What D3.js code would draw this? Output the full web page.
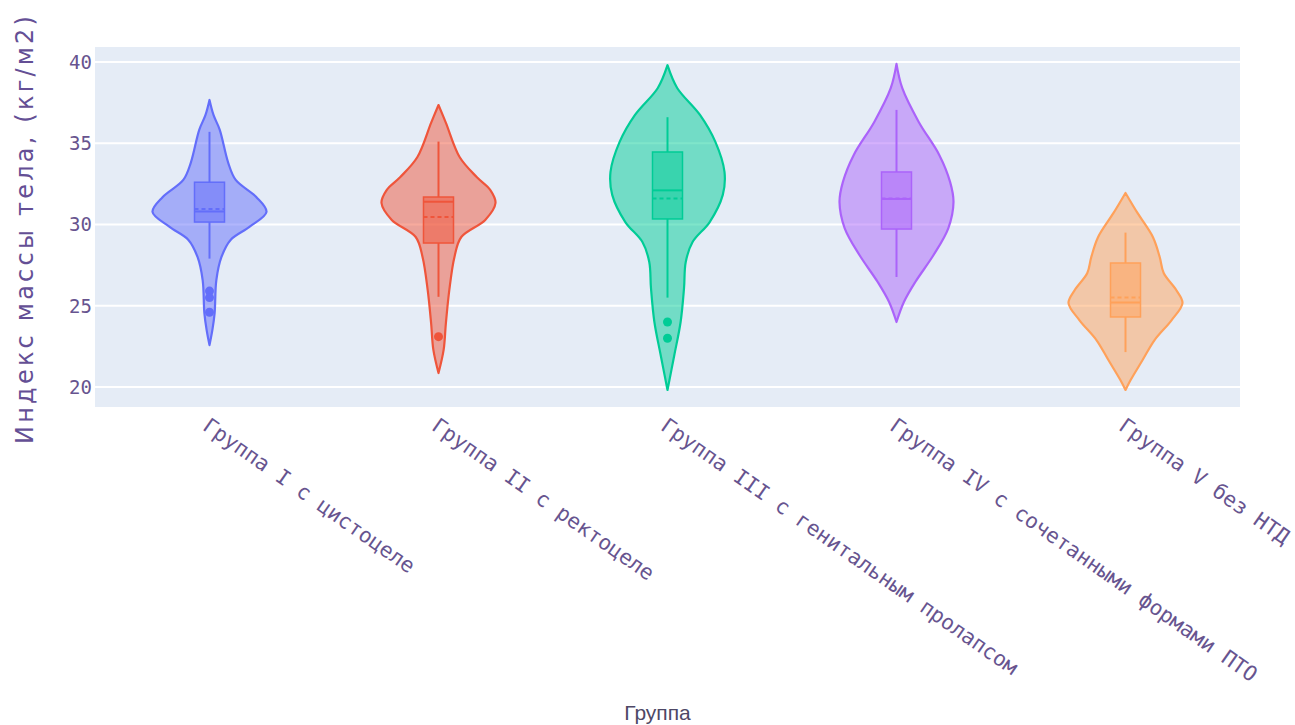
<!DOCTYPE html>
<html>
<head>
<meta charset="utf-8">
<script src="https://cdn.jsdelivr.net/npm/d3@7"></script>
<style>
  html, body { margin: 0; padding: 0; background: #fff; }
  svg { display: block; }
</style>
</head>
<body>
<svg id="chart" width="1295" height="725"></svg>
<script>
// Group labels (x axis categories)
const categories = [
  "Группа I с цистоцеле",
  "Группа II с ректоцеле",
  "Группа III с генитальным пролапсом",
  "Группа IV с сочетанными формами ПТО",
  "Группа V без НТД"
];

// Y axis ticks
const yTicks = [20, 25, 30, 35, 40];

// Density profiles: [BMI value, relative density 0..1]
const densityI = [[37.66,0],[36.74,0.07],[35.82,0.18],[33.78,0.33],[32.74,0.46],[31.69,0.82],[30.77,1.0],[29.85,0.70],[29.05,0.37],[28.0,0.21],[26.58,0.12],[24.55,0.09],[23.5,0.05],[22.58,0]];
const densityII = [[37.35,0],[36.25,0.13],[34.15,0.37],[32.92,0.67],[32.12,0.91],[31.32,1.0],[30.28,0.82],[29.23,0.40],[28.0,0.28],[25.97,0.19],[23.94,0.13],[22.28,0.09],[20.86,0]];
const densityIII = [[39.8,0],[38.4,0.17],[36.74,0.57],[35.08,0.84],[33.23,1.0],[31.82,0.97],[30.15,0.74],[28.92,0.44],[27.69,0.32],[26.09,0.29],[24.0,0.23],[21.97,0.12],[19.82,0]];
const densityIV = [[39.88,0],[38.4,0.10],[36.31,0.39],[34.28,0.75],[32.62,0.94],[31.38,1.0],[29.78,0.91],[28.12,0.65],[26.46,0.33],[25.23,0.13],[24.0,0]];
const densityV = [[31.94,0],[30.71,0.21],[29.23,0.48],[28.0,0.60],[27.02,0.67],[25.97,0.89],[25.17,1.0],[24.12,0.81],[22.89,0.51],[21.66,0.30],[20.43,0.09],[19.82,0]];
const densities = [densityI, densityII, densityIII, densityIV, densityV];

// Box statistics per group
const q1Values      = [30.15, 28.86, 30.34, 29.72, 24.31];
const medianValues  = [30.80, 31.40, 32.10, 31.57, 25.20];
const meanValues    = [30.95, 30.46, 31.60, 31.60, 25.50];
const q3Values      = [32.60, 31.69, 34.46, 33.23, 27.63];
const lowerWhiskers = [27.90, 25.55, 25.50, 26.77, 22.15];
const upperWhiskers = [35.70, 35.10, 36.60, 37.05, 29.50];
const outliers = [[25.9, 25.5, 24.6], [23.1], [24.0, 23.0], [], []];

const colors = ["#636efa", "#EF553B", "#00cc96", "#ab63fa", "#FFA15A"];

const svg = d3.select("#chart");
const plot = { left: 95, right: 1240, top: 47, bottom: 407 };

const x = d3.scaleBand().domain(categories).range([plot.left, plot.right]).padding(0);
const y = d3.scaleLinear().domain([18.77, 40.92]).range([plot.bottom, plot.top]);
const halfWidth = d3.scaleLinear().domain([0, 1]).range([0, 57]);
const boxHalf = 15;

// plot background
svg.append("rect")
  .attr("x", plot.left).attr("y", plot.top)
  .attr("width", plot.right - plot.left).attr("height", plot.bottom - plot.top)
  .attr("fill", "#E5ECF6");

// horizontal grid
svg.append("g").selectAll("line").data(yTicks).join("line")
  .attr("x1", plot.left).attr("x2", plot.right)
  .attr("y1", d => y(d)).attr("y2", d => y(d))
  .attr("stroke", "#ffffff").attr("stroke-width", 2);

// y tick labels
svg.append("g").selectAll("text").data(yTicks).join("text")
  .attr("x", plot.left - 3).attr("y", d => y(d))
  .attr("text-anchor", "end").attr("dominant-baseline", "central")
  .attr("font-family", "DejaVu Sans Mono, monospace").attr("font-size", 19)
  .attr("fill", "#67548f")
  .text(d => d);

// x tick labels, rotated
svg.append("g").selectAll("text").data(categories).join("text")
  .attr("transform", d => `translate(${x(d) + x.bandwidth() / 2 + 1},${plot.bottom + 9}) rotate(35)`)
  .attr("dy", "0.75em")
  .attr("text-anchor", "start")
  .attr("font-family", "DejaVu Sans Mono, monospace").attr("font-size", 21)
  .attr("fill", "#67548f")
  .text(d => d);

// axis titles
svg.append("text")
  .attr("transform", `translate(33,230) rotate(-90)`)
  .attr("text-anchor", "middle")
  .attr("textLength", 428).attr("lengthAdjust", "spacing")
  .attr("font-family", "DejaVu Sans, sans-serif").attr("font-size", 24)
  .attr("fill", "#644f95")
  .text("Индекс массы тела, (кг/м2)");

svg.append("text")
  .attr("x", (plot.left + plot.right) / 2 - 10).attr("y", 720)
  .attr("text-anchor", "middle")
  .attr("font-family", "Liberation Sans, Arial, sans-serif").attr("font-size", 21)
  .attr("fill", "#4e4866")
  .text("Группа");

// violins
categories.forEach((cat, i) => {
  const cx = x(cat) + x.bandwidth() / 2;
  const col = colors[i];
  const g = svg.append("g");

  const area = d3.area()
    .y(d => y(d[0]))
    .x0(d => cx - halfWidth(d[1]))
    .x1(d => cx + halfWidth(d[1]))
    .curve(d3.curveCatmullRom.alpha(0.5));

  g.append("path").datum(densities[i])
    .attr("d", area)
    .attr("fill", col).attr("fill-opacity", 0.5)
    .attr("stroke", col).attr("stroke-width", 2.2)
    .attr("stroke-linejoin", "round");

  // whiskers
  g.append("line")
    .attr("x1", cx).attr("x2", cx)
    .attr("y1", y(upperWhiskers[i])).attr("y2", y(q3Values[i]))
    .attr("stroke", col).attr("stroke-width", 2);
  g.append("line")
    .attr("x1", cx).attr("x2", cx)
    .attr("y1", y(q1Values[i])).attr("y2", y(lowerWhiskers[i]))
    .attr("stroke", col).attr("stroke-width", 2);

  // box
  g.append("rect")
    .attr("x", cx - boxHalf).attr("width", boxHalf * 2)
    .attr("y", y(q3Values[i])).attr("height", y(q1Values[i]) - y(q3Values[i]))
    .attr("fill", col).attr("fill-opacity", 0.5)
    .attr("stroke", col).attr("stroke-width", 1.5);

  // median
  g.append("line")
    .attr("x1", cx - boxHalf).attr("x2", cx + boxHalf)
    .attr("y1", y(medianValues[i])).attr("y2", y(medianValues[i]))
    .attr("stroke", col).attr("stroke-width", 2);

  // mean (dashed)
  g.append("line")
    .attr("x1", cx - boxHalf).attr("x2", cx + boxHalf)
    .attr("y1", y(meanValues[i])).attr("y2", y(meanValues[i]))
    .attr("stroke", col).attr("stroke-width", 2)
    .attr("stroke-dasharray", "4,3");

  // outliers
  g.selectAll("circle").data(outliers[i]).join("circle")
    .attr("cx", cx).attr("cy", d => y(d)).attr("r", 4.5)
    .attr("fill", col);
});
</script>
</body>
</html>
